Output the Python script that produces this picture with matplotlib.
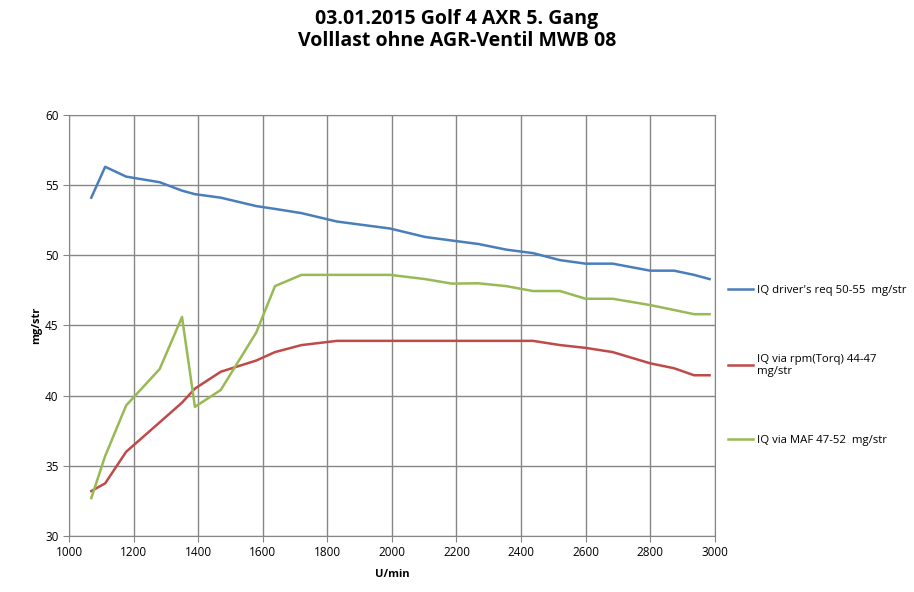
from matplotlib import pyplot as plt

# Drehzahl (U/min) und Einspritzmengen (mg/str)
rpm = [1069, 1112, 1177, 1281, 1350, 1390, 1470, 1580, 1638, 1720, 1830,
       1995, 2103, 2185, 2268, 2354, 2437, 2521, 2600, 2684, 2800, 2874,
       2936, 2984]
iq_driver = [54.1, 56.3, 55.6, 55.2, 54.6, 54.35, 54.1, 53.5, 53.3, 53.0, 52.4,
             51.9, 51.3, 51.05, 50.8, 50.4, 50.15, 49.65, 49.4, 49.4, 48.9, 48.9,
             48.6, 48.3]
iq_torq = [33.2, 33.75, 36.0, 38.1, 39.5, 40.5, 41.7, 42.5, 43.1, 43.6, 43.9,
           43.9, 43.9, 43.9, 43.9, 43.9, 43.9, 43.6, 43.4, 43.1, 42.3, 41.95,
           41.45, 41.45]
iq_maf = [32.7, 35.7, 39.3, 41.9, 45.6, 39.2, 40.4, 44.5, 47.8, 48.6, 48.6,
          48.6, 48.3, 47.98, 48.0, 47.8, 47.45, 47.45, 46.9, 46.9, 46.45, 46.1,
          45.8, 45.8]

labels = ["IQ driver's req 50-55  mg/str",
          "IQ via rpm(Torq) 44-47\nmg/str",
          "IQ via MAF 47-52  mg/str"]

plt.rcParams['font.family'] = ['Open Sans', 'DejaVu Sans']

fig = plt.figure(figsize=(9.14, 5.92), dpi=100)
ax = fig.add_axes([0.0755, 0.0946, 0.7065, 0.7114])

ax.plot(rpm, iq_driver, color='#4a7ebb', lw=1.8, label=labels[0])
ax.plot(rpm, iq_torq, color='#be4b48', lw=1.8, label=labels[1])
ax.plot(rpm, iq_maf, color='#98b954', lw=1.8, label=labels[2])

ax.set_xlim(1000, 3000)
ax.set_ylim(30, 60)
ax.set_xticks(range(1000, 3001, 200))
ax.set_yticks(range(30, 61, 5))
ax.grid(True, color='#868686', lw=1)
ax.set_axisbelow(True)
for s in ax.spines.values():
    s.set_color('#868686')
ax.tick_params(labelsize=8.5, color='#868686', length=4, direction='out')

ax.set_xlabel("U/min", fontsize=8, fontweight='bold', labelpad=7)
ax.set_ylabel("mg/str", fontsize=8, fontweight='bold', labelpad=2)

fig.suptitle("03.01.2015 Golf 4 AXR 5. Gang\nVolllast ohne AGR-Ventil MWB 08",
             fontsize=14, fontweight='bold', y=0.985, linespacing=1.15)

ax.legend(loc='center left', bbox_to_anchor=(1.005, 0.405), frameon=False,
          fontsize=8.2, labelspacing=5.1, handlelength=2.2, handletextpad=0.3)

fig.savefig('out.png')
